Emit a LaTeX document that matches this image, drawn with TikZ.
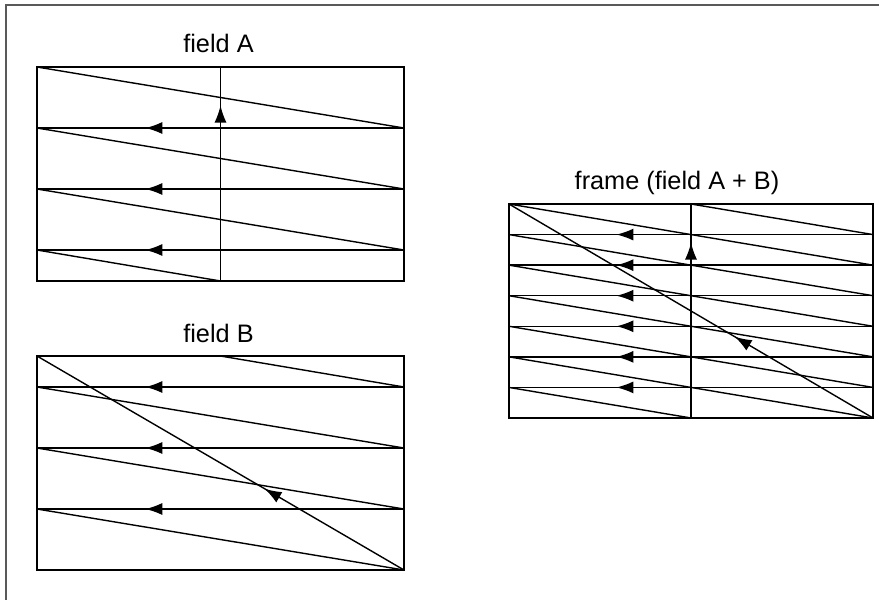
\documentclass[tikz,border=0pt]{standalone}
\usepackage{fontspec}
\setmainfont{Liberation Sans}
\usetikzlibrary{arrows.meta,decorations.markings}

\begin{document}
\begin{tikzpicture}[x=1pt,y=-1pt,line width=1.4pt,
              title/.style={anchor=base,font=\fontsize{25.3}{30}\selectfont},
              outer/.style={draw=black!65,line width=2pt},
              tip/.tip={Latex[length=17pt,width=12pt]},
              mark arrow/.style={postaction={decorate},decoration={markings,
                mark=at position #1 with {\arrow{tip}}}},
              hback/.style={mark arrow=0.705},
              vback/.style={mark arrow=0.82},
              retrace/.style={mark arrow=0.38}]

            \useasboundingbox (0,0) rectangle (879,600);
            \coordinate (box-tr) at (879,4.5);
            \coordinate (box-tl) at (6,4.5);
            \coordinate (box-bl) at (6,600);
            \draw[outer] (box-tr) -- (box-tl) -- (box-bl);

            % field A
            \node[title] (tA) at (218.5,52) {field A};
            \foreach \i in {0,...,3} {
              \coordinate (A-l\i) at (37,{67+61*\i});
              \coordinate (A-r\i) at (404,{67+61*\i});
            }
            \coordinate (A-tm) at (220.5,67);
            \coordinate (A-bm) at (220.5,281);
            \coordinate (A-se) at (404,281);
            \draw (A-l0) rectangle (A-se);
            \foreach \i/\j in {0/1,1/2,2/3} {
              \draw (A-l\i) -- (A-r\j);
              \draw[hback] (A-r\j) -- (A-l\j);
            }
            \draw (A-l3) -- (A-bm);
            \draw[vback] (A-bm) -- (A-tm);

            % field B
            \node[title] (tB) at (218.5,342) {field B};
            \coordinate (B-nw) at (37,356);
            \coordinate (B-tm) at (220.5,356);
            \coordinate (B-se) at (404,570);
            \foreach \i in {1,2,3} {
              \coordinate (B-l\i) at (37,{326+61*\i});
              \coordinate (B-r\i) at (404,{326+61*\i});
            }
            \draw (B-nw) rectangle (B-se);
            \draw (B-tm) -- (B-r1);
            \foreach \i/\j in {1/2,2/3} {
              \draw[hback] (B-r\i) -- (B-l\i);
              \draw (B-l\i) -- (B-r\j);
            }
            \draw[hback] (B-r3) -- (B-l3);
            \draw (B-l3) -- (B-se);
            \draw[retrace] (B-se) -- (B-nw);

            % frame (both fields)
            \node[title] (tF) at (677,189) {frame (field A + B)};
            \foreach \k in {0,...,7} {
              \coordinate (F-l\k) at (509,{204+30.57*\k});
              \coordinate (F-r\k) at (873,{204+30.57*\k});
            }
            \coordinate (F-tm) at (691,204);
            \coordinate (F-bm) at (691,418);
            \draw (F-l0) rectangle (F-r7);
            % lines of field A
            \foreach \i/\j in {0/2,2/4,4/6} {
              \draw (F-l\i) -- (F-r\j);
              \draw[hback] (F-r\j) -- (F-l\j);
            }
            \draw (F-l6) -- (F-bm);
            \draw[vback] (F-bm) -- (F-tm);
            % lines of field B
            \draw (F-tm) -- (F-r1);
            \foreach \i/\j in {1/3,3/5} {
              \draw[hback] (F-r\i) -- (F-l\i);
              \draw (F-l\i) -- (F-r\j);
            }
            \draw[hback] (F-r5) -- (F-l5);
            \draw (F-l5) -- (F-r7);
            \draw[retrace] (F-r7) -- (F-l0);

\end{tikzpicture}
\end{document}
